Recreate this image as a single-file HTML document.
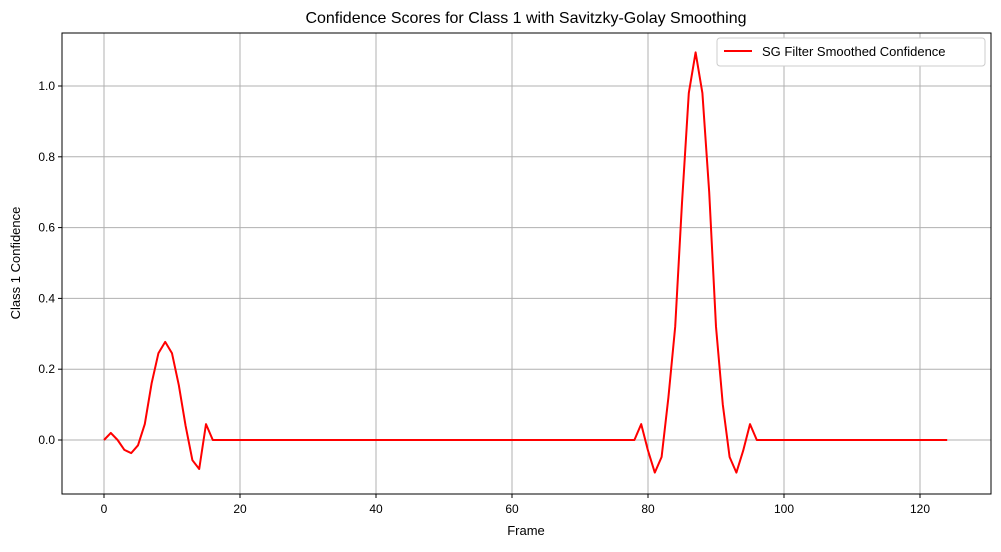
<!DOCTYPE html>
<html><head><meta charset="utf-8"><style>
body{margin:0;background:#fff;}
svg text{font-family:"Liberation Sans","DejaVu Sans",sans-serif;}
</style></head><body>
<svg id="chart" width="1001" height="547" xmlns="http://www.w3.org/2000/svg">
<rect width="1001" height="547" fill="#fff"/>
<text x="526" y="23" text-anchor="middle" font-size="16" fill="#000">Confidence Scores for Class 1 with Savitzky-Golay Smoothing</text>
<g id="grid"></g>
<g id="ticks"></g>
<path id="line" fill="none" stroke="#ff0000" stroke-width="2" stroke-linejoin="round"/>
<rect x="62" y="33" width="929" height="461" fill="none" stroke="#000" stroke-width="1"/>
<text x="526" y="535" text-anchor="middle" font-size="13">Frame</text>
<text transform="translate(20,263) rotate(-90)" text-anchor="middle" font-size="13">Class 1 Confidence</text>
<g>
<rect x="717" y="38" width="268" height="28" rx="3" fill="#fff" stroke="#ccc"/>
<line x1="724" y1="51" x2="752" y2="51" stroke="#ff0000" stroke-width="2"/>
<text x="762" y="56" font-size="13">SG Filter Smoothed Confidence</text>
</g>
</svg>
<script>
const xTicks=[0,20,40,60,80,100,120];
const yTicks=[0.0,0.2,0.4,0.6,0.8,1.0];
const yTickLabels=["0.0","0.2","0.4","0.6","0.8","1.0"];
const confidence=[0,0.02,0,-0.028,-0.037,-0.015,0.045,0.16,0.245,0.277,0.245,0.155,0.04,-0.057,-0.082,0.045,
0,0,0,0,0,0,0,0,0,0,0,0,0,0,0,0,0,0,0,0,0,0,0,0,0,0,0,0,0,0,0,0,0,0,0,0,0,0,0,0,0,0,0,0,0,0,0,0,0,0,0,0,0,0,0,0,0,0,0,0,0,0,0,
0.045,-0.03,-0.092,-0.048,0.12,0.32,0.67,0.98,1.095,0.98,0.7,0.32,0.1,-0.048,-0.092,-0.03,0.045,
0,0,0,0,0,0,0,0,0,0,0,0,0,0,0,0,0,0,0,0,0,0,0,0,0,0,0,0,0];
const ns="http://www.w3.org/2000/svg";
const xs=v=>104+v*6.8;
const ys=v=>440-v*354;
const grid=document.getElementById('grid'),ticks=document.getElementById('ticks');
function mk(tag,attrs,parent,txt){const e=document.createElementNS(ns,tag);for(const k in attrs)e.setAttribute(k,attrs[k]);if(txt!==undefined)e.textContent=txt;parent.appendChild(e);return e;}
xTicks.forEach(t=>{
 const g=mk('line',{x1:xs(t),x2:xs(t),y1:33,y2:494,stroke:'#b0b0b0','stroke-width':1},grid);
 
 
 mk('line',{x1:xs(t),x2:xs(t),y1:494,y2:498,stroke:'#000'},ticks);
 const l=mk('text',{x:xs(t),y:513,'text-anchor':'middle','font-size':12},ticks,String(t));
 
 
});
yTicks.forEach((t,i)=>{
 const g=mk('line',{x1:62,x2:991,y1:ys(t),y2:ys(t),stroke:'#b0b0b0','stroke-width':1},grid);
 
 
 mk('line',{x1:58,x2:62,y1:ys(t),y2:ys(t),stroke:'#000'},ticks);
 const l=mk('text',{x:55,y:ys(t)+4,'text-anchor':'end','font-size':12},ticks,yTickLabels[i]);
 
 
});
document.getElementById('line').setAttribute('d',confidence.map((v,i)=>(i?'L':'M')+xs(i).toFixed(1)+','+ys(v).toFixed(1)).join(''));
</script>
</body></html>
